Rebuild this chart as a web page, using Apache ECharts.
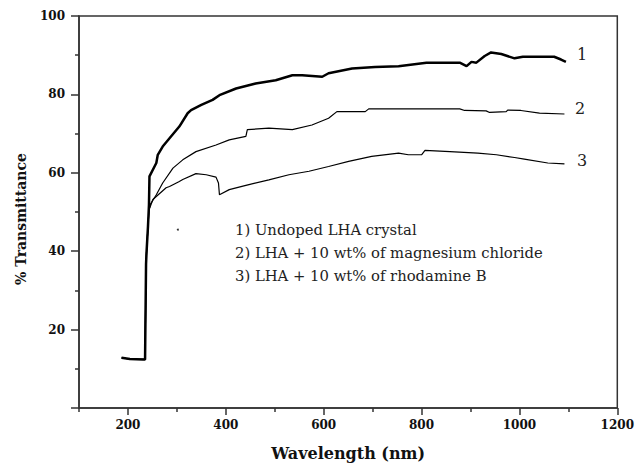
<!DOCTYPE html>
<html>
<head>
<meta charset="utf-8">
<script src="https://cdn.jsdelivr.net/npm/echarts@6/dist/echarts.min.js"></script>
<style>
html,body{margin:0;padding:0;background:#fff;}
#chart{width:637px;height:466px;}
</style>
</head>
<body>
<div id="chart"></div>
<script>
// ---- data ----
var wl1 = [187,204,231,235,237,238,241,243,244,258,261,271,285,305,322,329,350,373,387,421,461,502,536,556,597,610,658,705,753,810,878,892,902,912,929,942,963,990,1007,1071,1085,1095];
var t1  = [12.8,12.5,12.4,12.4,36.7,39.7,46.4,51.9,59.1,62.5,64.6,66.7,68.8,71.8,75.2,76.0,77.3,78.6,79.8,81.5,82.8,83.6,84.9,84.9,84.5,85.4,86.6,87.0,87.2,88.1,88.1,87.2,88.3,88.1,89.8,90.7,90.3,89.2,89.6,89.6,88.9,88.3];

var wl2 = [187,204,231,235,237,238,241,243,246,258,271,292,312,339,380,407,441,444,488,536,576,610,627,685,692,878,888,932,939,973,976,1003,1041,1092];
var t2  = [12.8,12.5,12.4,12.4,36.7,39.7,46.4,50.5,52.0,54.4,57.4,61.2,63.3,65.4,67.1,68.4,69.3,71.0,71.4,71.0,72.2,73.9,75.6,75.6,76.3,76.3,75.9,75.8,75.4,75.6,76.0,75.9,75.2,75.0];

var wl3 = [187,204,231,235,237,238,241,243,251,278,285,305,312,339,360,380,385,387,407,441,488,529,570,610,651,698,753,773,800,807,858,915,953,990,1010,1058,1092];
var t3  = [12.8,12.5,12.4,12.4,36.7,39.7,46.4,50.5,53.2,56.2,56.5,57.8,58.3,59.8,59.5,58.9,57.4,54.4,55.7,56.8,58.2,59.5,60.4,61.6,62.9,64.2,65.0,64.6,64.6,65.7,65.4,65.0,64.6,63.9,63.5,62.5,62.3];

var strayX = [302];
var strayY = [45.5];

var xMajor = [200,400,600,800,1000,1200];
var xMinor = [100,300,500,700,900,1100];

var curveNames = ['1','2','3'];
var legendLines = ['1) Undoped LHA crystal','2) LHA + 10 wt% of magnesium chloride','3) LHA + 10 wt% of rhodamine B'];
var xTitle = 'Wavelength (nm)';
var yTitle = '% Transmittance';

function zip(a,b){var r=[];for(var i=0;i<a.length;i++)r.push([a[i],b[i]]);return r;}

var axisColor = '#333';
var tickFont = {color:'#111', fontFamily:'DejaVu Serif', fontWeight:'bold', fontSize:12};

var chart = echarts.init(document.getElementById('chart'), null, {renderer:'svg'});
chart.setOption({
  animation:false,
  backgroundColor:'#fff',
  grid:{left:79,right:17,top:16,bottom:57,show:true,borderColor:axisColor,borderWidth:1.5,backgroundColor:'transparent'},
  xAxis:[{
    type:'value',min:100,max:1200,position:'bottom',
    splitLine:{show:false},
    axisLine:{show:true,lineStyle:{color:axisColor,width:1.5}},
    axisTick:{show:true,customValues:xMajor,length:7,inside:false,lineStyle:{color:axisColor,width:1.5}},
    axisLabel:{customValues:xMajor,margin:11,formatter:function(v){return String(v);},...tickFont},
    name:xTitle,nameLocation:'middle',nameGap:37,
    nameTextStyle:{color:'#111',fontFamily:'DejaVu Serif',fontWeight:'bold',fontSize:16}
  },{
    type:'value',min:100,max:1200,position:'bottom',
    splitLine:{show:false},
    axisLine:{show:false},
    axisTick:{show:true,customValues:xMinor,length:4,lineStyle:{color:axisColor,width:1.5}},
    axisLabel:{show:false}
  }],
  yAxis:[{
    type:'value',min:0,max:100,interval:20,
    splitLine:{show:false},
    axisLine:{show:true,lineStyle:{color:axisColor,width:1.5}},
    axisTick:{show:true,length:8,lineStyle:{color:axisColor,width:1.5}},
    minorTick:{show:true,splitNumber:2,length:4,lineStyle:{color:axisColor,width:1.5}},
    axisLabel:{margin:14,formatter:function(v){return v===0?'':String(v);},...tickFont}
  }],
  graphic:[
    {type:'text',x:21,y:219,rotation:Math.PI/2,style:{text:yTitle,fill:'#111',font:'bold 14px "DejaVu Serif"',textAlign:'center',textVerticalAlign:'middle'}},
    {type:'text',x:235,y:229,style:{text:legendLines[0],fill:'#222',font:'14.8px "DejaVu Serif"',textAlign:'left',textVerticalAlign:'middle'}},
    {type:'text',x:235,y:252,style:{text:legendLines[1],fill:'#222',font:'14.8px "DejaVu Serif"',textAlign:'left',textVerticalAlign:'middle'}},
    {type:'text',x:235,y:275,style:{text:legendLines[2],fill:'#222',font:'14.8px "DejaVu Serif"',textAlign:'left',textVerticalAlign:'middle'}},
    {type:'text',x:582,y:54,style:{text:curveNames[0],fill:'#222',font:'16px "DejaVu Serif"',textAlign:'center',textVerticalAlign:'middle'}},
    {type:'text',x:580,y:108,style:{text:curveNames[1],fill:'#222',font:'16px "DejaVu Serif"',textAlign:'center',textVerticalAlign:'middle'}},
    {type:'text',x:582,y:160,style:{text:curveNames[2],fill:'#222',font:'16px "DejaVu Serif"',textAlign:'center',textVerticalAlign:'middle'}}
  ],
  series:[
    {name:'3',type:'line',data:zip(wl3,t3),showSymbol:false,lineStyle:{color:'#000',width:1.2},z:2},
    {name:'2',type:'line',data:zip(wl2,t2),showSymbol:false,lineStyle:{color:'#000',width:1.2},z:3},
    {name:'1',type:'line',data:zip(wl1,t1),showSymbol:false,lineStyle:{color:'#000',width:2.5},z:4},
    {name:'dot',type:'scatter',data:zip(strayX,strayY),symbolSize:2,itemStyle:{color:'#000'}}
  ]
});
</script>
</body>
</html>
